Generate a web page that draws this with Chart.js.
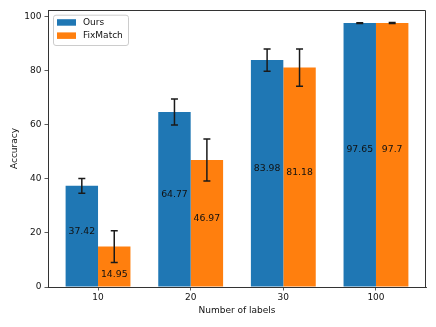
<!DOCTYPE html>
<html>
<head>
<meta charset="utf-8">
<script src="https://cdn.jsdelivr.net/npm/chart.js@4"></script>
<style>
  html, body { margin: 0; padding: 0; background: #fff; }
  #c { display: block; }
</style>
</head>
<body>
<canvas id="c" width="436" height="327"></canvas>
<script>
const categories = ['10', '20', '30', '100'];
const seriesNames = ['Ours', 'FixMatch'];
const oursValues = [37.42, 64.77, 83.98, 97.65];
const fixmatchValues = [14.95, 46.97, 81.18, 97.7];
const oursErrors = [2.7, 4.8, 4.1, 0.15];
const fixmatchErrors = [5.9, 7.75, 6.9, 0.15];
const oursLabels = ['37.42', '64.77', '83.98', '97.65'];
const fixmatchLabels = ['14.95', '46.97', '81.18', '97.7'];
const yTicks = [0, 20, 40, 60, 80, 100];

const FONT = 'DejaVu Sans';
const BLUE = '#1f77b4';
const ORANGE = '#ff7f0e';
const AXIS = '#333333';

const errorsBySeries = [oursErrors, fixmatchErrors];
const labelsBySeries = [oursLabels, fixmatchLabels];

const overlayPlugin = {
  id: 'overlay',
  afterDatasetsDraw(chart) {
    const ctx = chart.ctx;
    const ys = chart.scales.y;
    const area = chart.chartArea;
    ctx.save();
    chart.data.datasets.forEach((ds, di) => {
      const meta = chart.getDatasetMeta(di);
      meta.data.forEach((bar, i) => {
        const v = ds.data[i].y;
        const e = errorsBySeries[di][i];
        const x = bar.x;
        const yHi = ys.getPixelForValue(v + e);
        const yLo = ys.getPixelForValue(v - e);
        // error bar
        ctx.strokeStyle = '#1a1a1a';
        ctx.lineWidth = 1.5;
        ctx.beginPath();
        ctx.moveTo(x, yHi); ctx.lineTo(x, yLo);
        ctx.moveTo(x - 3.5, yHi); ctx.lineTo(x + 3.5, yHi);
        ctx.moveTo(x - 3.5, yLo); ctx.lineTo(x + 3.5, yLo);
        ctx.stroke();
        // value label
        ctx.font = '9.3px "' + FONT + '"';
        ctx.fillStyle = '#111';
        ctx.textAlign = 'center';
        ctx.textBaseline = 'middle';
        let cy = ys.getPixelForValue(v / 2) - 5;
        if (cy - 4 < yLo + 4) {
          cy = (yLo + ys.getPixelForValue(0)) / 2;
        }
        ctx.fillText(labelsBySeries[di][i], x, cy);
      });
    });
    // frame top and right
    ctx.strokeStyle = AXIS;
    ctx.lineWidth = 1;
    ctx.beginPath();
    ctx.moveTo(area.left, area.top + 0.5);
    ctx.lineTo(area.right - 0.5, area.top + 0.5);
    ctx.lineTo(area.right - 0.5, area.bottom);
    ctx.stroke();
    // legend
    const lx = area.left + 5, ly = area.top + 4.7, lw = 75, lh = 30.3;
    ctx.fillStyle = 'rgba(255,255,255,0.8)';
    ctx.strokeStyle = '#cccccc';
    ctx.lineWidth = 1;
    ctx.beginPath();
    ctx.roundRect(lx + 0.5, ly + 0.5, lw, lh, 2.5);
    ctx.fill();
    ctx.stroke();
    chart.data.datasets.forEach((ds, di) => {
      const py = ly + 4.5 + di * 13.2;
      ctx.fillStyle = ds.backgroundColor;
      ctx.fillRect(lx + 4, py, 19, 6.5);
      ctx.fillStyle = '#111';
      ctx.font = '9px "' + FONT + '"';
      ctx.textAlign = 'left';
      ctx.textBaseline = 'middle';
      ctx.fillText(ds.label, lx + 30, py + 3.5);
    });
    ctx.restore();
  }
};

new Chart(document.getElementById('c'), {
  type: 'bar',
  data: {
    datasets: [
      {
        label: seriesNames[0],
        data: oursValues.map((v, i) => ({ x: i, y: v })),
        backgroundColor: BLUE,
        borderWidth: 0
      },
      {
        label: seriesNames[1],
        data: fixmatchValues.map((v, i) => ({ x: i, y: v })),
        backgroundColor: ORANGE,
        borderWidth: 0
      }
    ]
  },
  options: {
    responsive: false,
    devicePixelRatio: 1,
    animation: false,
    categoryPercentage: 0.7,
    barPercentage: 1.0,
    layout: { padding: { left: 0, right: 10, top: 10, bottom: 0 } },
    plugins: { legend: { display: false }, tooltip: { enabled: false } },
    scales: {
      x: {
        type: 'linear',
        offset: false,
        min: -0.54,
        max: 3.54,
        afterBuildTicks: (s) => { s.ticks = categories.map((_, i) => ({ value: i })); },
        afterFit: (s) => { s.height = 40; },
        ticks: {
          callback: (v) => categories[v],
          font: { family: FONT, size: 9 },
          color: '#111',
          padding: 2,
          maxRotation: 0,
          autoSkip: false
        },
        grid: { display: true, offset: false, drawOnChartArea: false, drawTicks: true, tickLength: 3.5, color: AXIS, lineWidth: 0.8 },
        border: { display: true, color: AXIS, width: 1 },
        title: {
          display: true,
          text: 'Number of labels',
          font: { family: FONT, size: 9 },
          color: '#111',
          padding: { top: 0, bottom: 11 }
        }
      },
      y: {
        min: 0,
        max: 102.5,
        afterBuildTicks: (s) => { s.ticks = yTicks.map(v => ({ value: v })); },
        afterFit: (s) => { s.width = 48; },
        ticks: {
          font: { family: FONT, size: 9 },
          color: '#111',
          padding: 3,
          includeBounds: false
        },
        grid: { display: true, drawOnChartArea: false, drawTicks: true, tickLength: 3.5, color: AXIS, lineWidth: 0.8 },
        border: { display: true, color: AXIS, width: 1 },
        title: {
          display: true,
          text: 'Accuracy',
          font: { family: FONT, size: 9 },
          color: '#111',
          padding: { top: 9.5, bottom: 0 }
        }
      }
    }
  },
  plugins: [overlayPlugin]
});
</script>
</body>
</html>
